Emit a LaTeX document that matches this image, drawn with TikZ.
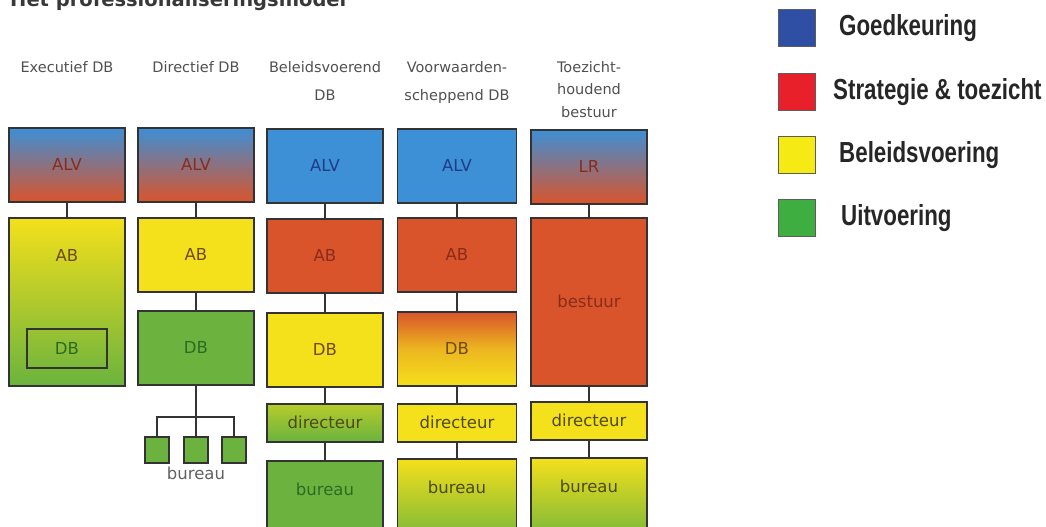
\documentclass[tikz,border=0pt]{standalone}
\usepackage{fontspec}
\usetikzlibrary{positioning}
\newfontfamily\boxfont{DejaVu Sans}
\newfontfamily\legendafont{Liberation Sans}[FakeStretch=0.77]
\definecolor{blauw}{HTML}{3D8FD6}
\definecolor{rood}{HTML}{D9542B}
\definecolor{geel}{HTML}{F4E01B}
\definecolor{groen}{HTML}{6BB33E}
\definecolor{lijn}{HTML}{333333}
\definecolor{kopgrijs}{HTML}{505050}
\definecolor{tblauw}{HTML}{1F3C88}
\definecolor{trood}{HTML}{8A2C1C}
\definecolor{tgeel}{HTML}{6E4A14}
\definecolor{tgroen}{HTML}{2E6B22}
\definecolor{tolijf}{HTML}{4D4A14}
\definecolor{lgblauw}{HTML}{2E4FA3}
\definecolor{lgrood}{HTML}{E8202A}
\definecolor{lggeel}{HTML}{F5EA14}
\definecolor{lggroen}{HTML}{3DAE3F}
\tikzset{
  blok/.style={draw=lijn, line width=1.5pt, anchor=north, minimum width=116pt,
    inner sep=0pt, font=\boxfont\fontsize{16.5}{19}\selectfont},
  rij/.style={minimum height=74pt},
  smal/.style={minimum height=38pt},
  hoog/.style={minimum height=168pt},
  afgesneden/.style={text height=35pt, text depth=55pt},
  klein/.style={draw=lijn, line width=1.5pt, anchor=north, minimum width=24pt,
    minimum height=26pt, inner sep=0pt, fill=groen},
  verbinding/.style={draw=lijn, line width=1.5pt},
  kop/.style={font=\boxfont\fontsize{14.5}{28}\selectfont, text=kopgrijs,
    align=center, anchor=north, inner sep=0pt},
  legvak/.style={draw=lijn!80, line width=1pt, anchor=north west, minimum size=37pt,
    inner sep=0pt},
  legtekst/.style={font=\legendafont\bfseries\fontsize{29}{32}\selectfont,
    text=black!85, anchor=west, inner sep=0pt}
}
\begin{document}
\begin{tikzpicture}[x=1pt,y=-1pt]
  \useasboundingbox (0,0) rectangle (1046,527);
  \clip (0,0) rectangle (1046,527);
  \node[font=\boxfont\bfseries\fontsize{19.5}{22}\selectfont, text=black!78,
    anchor=base west, inner sep=0pt] (titel) at (10,7) {Het professionaliseringsmodel};

  % Kolom 1: executief DB
  \node[kop] (kop1) at (67,61) {Executief DB};
  \node[blok, rij, top color=blauw, bottom color=rood, text=trood] (alv1) at (67,127) {ALV};
  \node[blok, hoog, top color=geel, bottom color=groen, text=tgeel,
    text height=44pt, text depth=124pt] (ab1) at (67,217) {AB};
  \node[blok, minimum width=80pt, minimum height=39pt, text=tgroen] (db1) at (67,328) {DB};
  \draw[verbinding] (alv1.south) -- (ab1.north);

  % Kolom 2: directief DB
  \node[kop] (kop2) at (196,61) {Directief DB};
  \node[blok, rij, top color=blauw, bottom color=rood, text=trood] (alv2) at (196,127) {ALV};
  \node[blok, rij, fill=geel, text=tgeel] (ab2) at (196,217) {AB};
  \node[blok, rij, fill=groen, text=tgroen] (db2) at (196,310) {DB};
  \coordinate (tak) at (196,417);
  \node[klein] (bur21) at (157,436) {};
  \node[klein] (bur22) at (196,436) {};
  \node[klein] (bur23) at (234,436) {};
  \node[font=\boxfont\fontsize{16.5}{19}\selectfont, text=kopgrijs!90, anchor=north,
    inner sep=0pt] (bur2) at (196,467) {bureau};
  \draw[verbinding] (alv2.south) -- (ab2.north);
  \draw[verbinding] (ab2.south) -- (db2.north);
  \draw[verbinding] (db2.south) -- (bur22.north);
  \draw[verbinding] (bur21.north) |- (tak) -| (bur23.north);

  % Kolom 3: beleidsvoerend DB
  \node[kop] (kop3) at (325,61) {Beleidsvoerend\\DB};
  \node[blok, rij, fill=blauw, text=tblauw] (alv3) at (325,128) {ALV};
  \node[blok, rij, fill=rood, text=trood] (ab3) at (325,218) {AB};
  \node[blok, rij, fill=geel, text=tgeel] (db3) at (325,312) {DB};
  \node[blok, smal, top color=geel!55!groen, bottom color=groen, text=tolijf] (dir3) at (325,403) {directeur};
  \node[blok, afgesneden, fill=groen, text=tgroen] (bur3) at (325,460) {bureau};
  \draw[verbinding] (alv3.south) -- (ab3.north);
  \draw[verbinding] (ab3.south) -- (db3.north);
  \draw[verbinding] (db3.south) -- (dir3.north);
  \draw[verbinding] (dir3.south) -- (bur3.north);

  % Kolom 4: voorwaardenscheppend DB
  \node[kop] (kop4) at (457,61) {Voorwaarden-\\scheppend DB};
  \node[blok, rij, minimum width=119pt, fill=blauw, text=tblauw] (alv4) at (457,128) {ALV};
  \node[blok, rij, minimum width=119pt, fill=rood, text=trood] (ab4) at (457,217) {AB};
  \node[blok, rij, minimum width=119pt, top color=rood, bottom color=geel,
    middle color=geel!70!rood, text=tgeel] (db4) at (457,311) {DB};
  \node[blok, smal, minimum width=119pt, fill=geel, text=tolijf] (dir4) at (457,403) {directeur};
  \node[blok, afgesneden, minimum width=119pt, top color=geel, bottom color=groen,
    text=tolijf] (bur4) at (457,458) {bureau};
  \draw[verbinding] (alv4.south) -- (ab4.north);
  \draw[verbinding] (ab4.south) -- (db4.north);
  \draw[verbinding] (db4.south) -- (dir4.north);
  \draw[verbinding] (dir4.south) -- (bur4.north);

  % Kolom 5: toezichthoudend bestuur
  \node[kop, font=\boxfont\fontsize{14.5}{22.5}\selectfont] (kop5) at (589,61) {Toezicht-\\houdend\\bestuur};
  \node[blok, rij, top color=blauw, bottom color=rood, text=trood] (lr5) at (589,129) {LR};
  \node[blok, hoog, fill=rood, text=trood] (best5) at (589,217) {bestuur};
  \node[blok, smal, fill=geel, text=tolijf] (dir5) at (589,401) {directeur};
  \node[blok, afgesneden, top color=geel, bottom color=groen, text=tolijf] (bur5) at (589,457) {bureau};
  \draw[verbinding] (lr5.south) -- (best5.north);
  \draw[verbinding] (best5.south) -- (dir5.north);
  \draw[verbinding] (dir5.south) -- (bur5.north);

  % Legenda
  \node[legvak, fill=lgblauw] (lg1) at (778,9) {};
  \node[legvak, fill=lgrood] (lg2) at (778,73) {};
  \node[legvak, fill=lggeel] (lg3) at (778,136) {};
  \node[legvak, fill=lggroen] (lg4) at (778,199) {};
  \node[legtekst, right=23pt of lg1] (lgt1) {Goedkeuring};
  \node[legtekst, right=17pt of lg2] (lgt2) {Strategie \& toezicht};
  \node[legtekst, right=23pt of lg3] (lgt3) {Beleidsvoering};
  \node[legtekst, right=25pt of lg4] (lgt4) {Uitvoering};
\end{tikzpicture}
\end{document}
